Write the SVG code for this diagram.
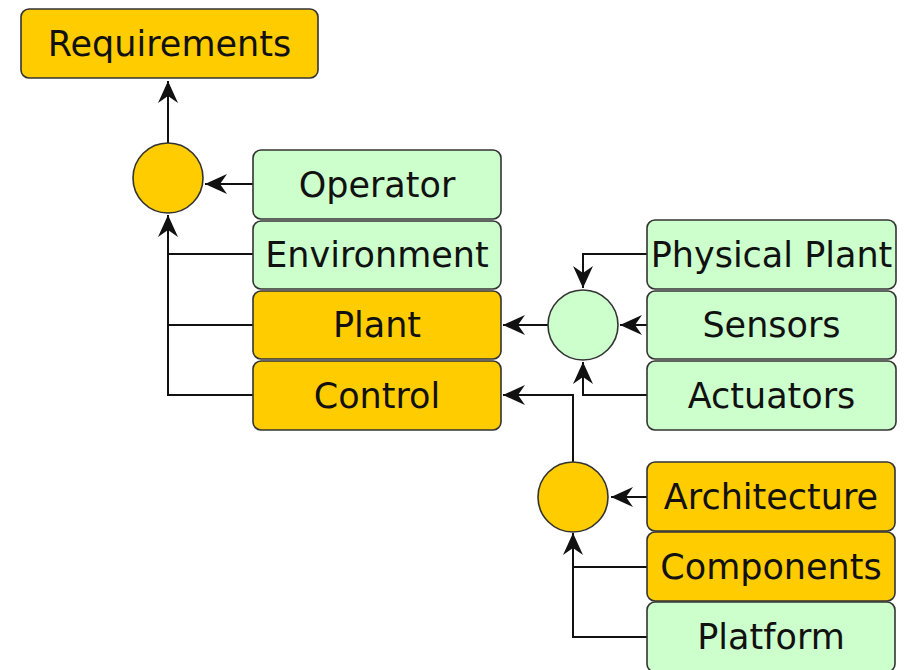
<svg xmlns="http://www.w3.org/2000/svg" width="906" height="670" viewBox="0 0 906 670">
<defs>
<style>
.box{stroke:#333;stroke-width:1.6}
.o{fill:#FFCC00}
.g{fill:#CCFFCC}
.t{font-family:"DejaVu Sans",sans-serif;font-size:35px;fill:#111;text-anchor:middle}
.c{fill:none;stroke:#111;stroke-width:2}
</style>
<marker id="a" markerUnits="userSpaceOnUse" markerWidth="26" markerHeight="22" refX="22" refY="10" orient="auto" viewBox="0 0 26 22">
<path d="M0,0 L22,10 L0,20 L7,10 Z" fill="#111"/>
</marker>
</defs>
<g id="connectors">
<path class="c" d="M168,143 V81" marker-end="url(#a)"/>
<path class="c" d="M253,184 H205" marker-end="url(#a)"/>
<path class="c" d="M253,395 H168 V215" marker-end="url(#a)"/>
<path class="c" d="M253,254 H168"/>
<path class="c" d="M253,325 H168"/>
<path class="c" d="M548,325 H503" marker-end="url(#a)"/>
<path class="c" d="M647,254 H583 V288" marker-end="url(#a)"/>
<path class="c" d="M647,325 H620" marker-end="url(#a)"/>
<path class="c" d="M647,395 H583 V362" marker-end="url(#a)"/>
<path class="c" d="M573,462 V395 H503" marker-end="url(#a)"/>
<path class="c" d="M647,497 H611" marker-end="url(#a)"/>
<path class="c" d="M647,637 H573 V533" marker-end="url(#a)"/>
<path class="c" d="M647,567 H573"/>
</g>
<g id="requirements"><rect class="box o" x="21" y="9" width="297" height="69" rx="8"/><text class="t" x="169.5" y="56">Requirements</text></g>
<g id="join1"><circle class="box o" cx="168" cy="178" r="35"/></g>
<g id="operator"><rect class="box g" x="253" y="150" width="248" height="69" rx="8"/><text class="t" x="377" y="197">Operator</text></g>
<g id="environment"><rect class="box g" x="253" y="221" width="248" height="68" rx="8"/><text class="t" x="377" y="267">Environment</text></g>
<g id="plant"><rect class="box o" x="253" y="291" width="248" height="68" rx="8"/><text class="t" x="377" y="337">Plant</text></g>
<g id="control"><rect class="box o" x="253" y="361" width="248" height="69" rx="8"/><text class="t" x="377" y="408">Control</text></g>
<g id="join2"><circle class="box g" cx="583" cy="325" r="35"/></g>
<g id="physical-plant"><rect class="box g" x="647" y="220" width="249" height="69" rx="8"/><text class="t" x="771.5" y="267">Physical Plant</text></g>
<g id="sensors"><rect class="box g" x="647" y="291" width="249" height="68" rx="8"/><text class="t" x="771.5" y="337">Sensors</text></g>
<g id="actuators"><rect class="box g" x="647" y="361" width="249" height="69" rx="8"/><text class="t" x="771.5" y="408">Actuators</text></g>
<g id="join3"><circle class="box o" cx="573" cy="497" r="35"/></g>
<g id="architecture"><rect class="box o" x="647" y="462" width="248" height="69" rx="8"/><text class="t" x="771" y="509">Architecture</text></g>
<g id="components"><rect class="box o" x="647" y="532" width="248" height="69" rx="8"/><text class="t" x="771" y="579">Components</text></g>
<g id="platform"><rect class="box g" x="647" y="602" width="248" height="70" rx="8"/><text class="t" x="771" y="649">Platform</text></g>
</svg>
